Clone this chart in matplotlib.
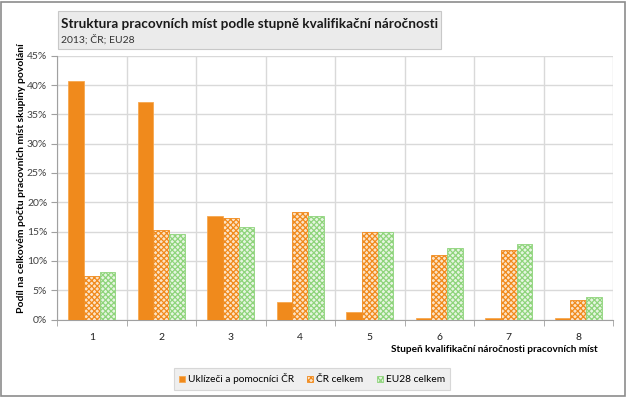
import matplotlib
matplotlib.use("Agg")
import matplotlib.pyplot as plt
from matplotlib.patches import Rectangle
import numpy as np

plt.rcParams['font.family'] = ['Lato', 'DejaVu Sans']
plt.rcParams['hatch.linewidth'] = 0.9

categories = ["1", "2", "3", "4", "5", "6", "7", "8"]
uklizeci = [40.7, 37.1, 17.7, 3.0, 1.3, 0.2, 0.2, 0.2]
cr_celkem = [7.4, 15.2, 17.3, 18.4, 15.0, 11.0, 11.8, 3.4]
eu28_celkem = [8.1, 14.6, 15.7, 17.7, 14.9, 12.2, 12.9, 3.9]
series_names = ["Uklízeči a pomocníci ČR", "ČR celkem", "EU28 celkem"]
y_ticks = [0, 5, 10, 15, 20, 25, 30, 35, 40, 45]

W, H = 627, 397
fig = plt.figure(figsize=(W / 100, H / 100), dpi=100)

# outer frame
fig.patches.append(Rectangle((1 / W, 1 / H), 624 / W, 394 / H, transform=fig.transFigure,
                             facecolor='white', edgecolor='#8c8c8c', linewidth=1.2, zorder=-10))

ax = fig.add_axes([57 / W, (H - 319.5) / H, (613 - 57) / W, (319.5 - 55.7) / H])

orange = '#F08A1C'
green = '#8ED47B'
x = np.arange(len(categories))
bw = 0.225
ax.bar(x - bw, uklizeci, bw, color=orange, edgecolor='#F6A850', linewidth=0.6, label=series_names[0], zorder=3)
ax.bar(x, cr_celkem, bw, color='#FCE3C6', edgecolor=orange, hatch='xxxxxx', linewidth=0.6, label=series_names[1], zorder=3)
ax.bar(x + bw, eu28_celkem, bw, color='#E6F5E1', edgecolor=green, hatch='xxxxxx', linewidth=0.6, label=series_names[2], zorder=3)

ax.set_xlim(-0.5, len(categories) - 0.5)
ax.set_ylim(0, 45)
ax.set_yticks(y_ticks)
ax.set_yticklabels([f"{v}%" for v in y_ticks], fontsize=7.5, color='#404040')
ax.set_xticks(x)
ax.set_xticklabels(categories, fontsize=7.5, color='#202020')
ax.set_xticks(np.arange(len(categories) + 1) - 0.5, minor=True)
ax.tick_params(axis='x', which='major', length=0, pad=10)
ax.tick_params(axis='x', which='minor', length=4, color='#a0a0a0', direction='out')
ax.tick_params(axis='y', length=4, color='#a0a0a0', direction='out', pad=3)
ax.grid(axis='y', color='#d9d9d9', linewidth=1.0, zorder=0)
ax.grid(axis='x', which='minor', color='#d9d9d9', linewidth=1.0, zorder=0)
for s in ['top', 'right']:
    ax.spines[s].set_visible(False)
ax.spines['left'].set_color('#a0a0a0')
ax.spines['bottom'].set_color('#a0a0a0')

ax.set_xlabel("Stupeň kvalifikační náročnosti pracovních míst", fontsize=7.2, fontweight='bold')
ax.xaxis.set_label_coords((598 - 57) / (613 - 57), -(349 - 319.5) / (319.5 - 55.7))
ax.xaxis.label.set_horizontalalignment('right')
ax.xaxis.label.set_verticalalignment('center')

fig.text(22 / W, 1 - 178 / H, "Podíl na celkovém počtu pracovních míst skupiny povolání", rotation=90,
         fontsize=7.5, fontweight='bold', ha='center', va='center')

# title box
fig.patches.append(Rectangle((57.5 / W, 1 - 48.5 / H), (440.5 - 57.5) / W, (48.5 - 11) / H,
                             transform=fig.transFigure, facecolor='#ebebeb', edgecolor='#c8c8c8',
                             linewidth=0.8, zorder=-5))
fig.text(61 / W, 1 - 23.5 / H, "Struktura pracovních míst podle stupně kvalifikační náročnosti",
         fontsize=9.7, fontweight='bold', ha='left', va='center', color='#1a1a1a')
fig.text(61 / W, 1 - 39.5 / H, "2013; ČR; EU28", fontsize=7.5, ha='left', va='center', color='#333333')

leg = fig.legend(loc='center', bbox_to_anchor=(312 / W, 1 - 379 / H), ncol=3, fontsize=7.3,
                 frameon=True, fancybox=False, handlelength=0.6, handleheight=0.6,
                 handletextpad=0.3, columnspacing=1.3, borderpad=0.5)
leg.get_frame().set_facecolor('#ebebeb')
leg.get_frame().set_edgecolor('#d0d0d0')
leg.get_frame().set_linewidth(0.8)

fig.savefig("out.png", dpi=100)
